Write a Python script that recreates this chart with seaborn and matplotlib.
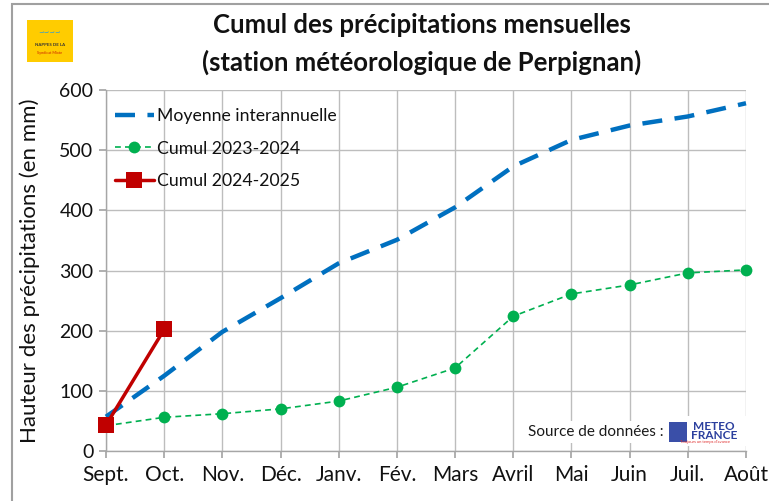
import numpy as np
import pandas as pd
import matplotlib
matplotlib.use("Agg")
import matplotlib.pyplot as plt
from matplotlib.patches import Rectangle
import seaborn as sns

months = ["Sept.", "Oct.", "Nov.", "Déc.", "Janv.", "Fév.", "Mars", "Avril", "Mai", "Juin", "Juil.", "Août"]
moyenne = [57, 125, 198, 254, 312, 351, 405, 473, 517, 541, 556, 578]
cumul_2324 = [42, 56, 62, 70, 83, 106, 138, 224, 261, 276, 296, 301]
cumul_2425 = [43, 202]
yticks = [0, 100, 200, 300, 400, 500, 600]

sns.set_theme(style="white")
plt.rcParams['font.family'] = ['Lato', 'DejaVu Sans']

W, H = 769, 501
fig = plt.figure(figsize=(W / 100, H / 100), dpi=100)
ax = fig.add_axes([106 / W, 1 - 451 / H, 640 / W, 361 / H])

x_all = np.arange(len(months))
df_m = pd.DataFrame({"x": x_all, "y": moyenne})
df_a = pd.DataFrame({"x": x_all, "y": cumul_2324})
df_b = pd.DataFrame({"x": x_all[:len(cumul_2425)], "y": cumul_2425})

sns.lineplot(data=df_m, x="x", y="y", ax=ax, color="#0070C0", linewidth=3.2,
             label="Moyenne interannuelle", zorder=3)
ax.lines[-1].set_dashes([4.5, 2.8])
sns.lineplot(data=df_a, x="x", y="y", ax=ax, color="#00B050", linewidth=1.2,
             marker="o", markersize=8.5, markeredgewidth=0, label="Cumul 2023-2024", zorder=4)
ax.lines[-1].set_dashes([3.5, 2.5])
sns.lineplot(data=df_b, x="x", y="y", ax=ax, color="#C00000", linewidth=2.5,
             marker="s", markersize=11, markeredgewidth=0, label="Cumul 2024-2025", zorder=5)
for ln in ax.lines:
    ln.set_clip_on(False)

ax.set_xlim(0, len(months) - 1)
ax.set_ylim(0, 600)
ax.set_xticks(x_all)
ax.set_xticklabels(months, fontsize=15, color="#111111")
ax.set_yticks(yticks)
ax.set_yticklabels([str(v) for v in yticks], fontsize=14, color="#111111")
ax.set_xlabel("")
ax.set_ylabel("Hauteur des précipitations (en mm)", fontsize=16, color="#111111", va="center")
ax.yaxis.set_label_coords((30 - 106) / 640, 0.5)
ax.grid(True, color="#bdbdbd", linewidth=1.0)
ax.set_axisbelow(True)
for s in ["top", "right"]:
    ax.spines[s].set_visible(False)
for s in ["left", "bottom"]:
    ax.spines[s].set_color("#a6a6a6")
    ax.spines[s].set_linewidth(1.0)
ax.tick_params(axis="x", bottom=True, length=5, color="#a6a6a6", pad=5)
ax.tick_params(axis="y", left=True, length=5, color="#a6a6a6", pad=4)

leg = ax.legend(loc="upper left", bbox_to_anchor=(0.0, 0.975), frameon=False, fontsize=12.7,
                handlelength=2.2, handletextpad=0.2, labelspacing=0.95, borderaxespad=0.1)
for t in leg.get_texts():
    t.set_color("#111111")

fig.text(422 / W, 1 - 25 / H, "Cumul des précipitations mensuelles", ha="center", va="center",
         fontsize=18.5, fontweight="bold", color="#111111")
fig.text(422 / W, 1 - 62 / H, "(station météorologique de Perpignan)", ha="center", va="center",
         fontsize=18.5, fontweight="bold", color="#111111")

# outer frame
fig.patches.append(Rectangle((12 / W, -0.05), (W - 10) / W, 1 - 4 / H + 0.05, transform=fig.transFigure,
                             fill=False, edgecolor="#a0a0a0", linewidth=1.5))

# logo (top left)
fig.patches.append(Rectangle((27 / W, 1 - 62 / H), 46 / W, 42 / H, transform=fig.transFigure,
                             facecolor="#FFCC00", edgecolor="none"))
fig.text(50 / W, 1 - 33 / H, "~~~~", ha="center", va="center", fontsize=7, color="#3aa0c8")
fig.text(50 / W, 1 - 45 / H, "NAPPES DE LA", ha="center", va="center", fontsize=3.2,
         fontweight="bold", color="#333333")
fig.text(50 / W, 1 - 53 / H, "Syndicat Mixte", ha="center", va="center", fontsize=2.8,
         color="#cc2200")

# source
fig.text(664 / W, 1 - 432 / H, "Source de données :", ha="right", va="center", fontsize=11,
         color="#1a1a1a", bbox=dict(facecolor="white", edgecolor="none", pad=3))
fig.patches.append(Rectangle((666 / W, 1 - 446 / H), 80 / W, 30 / H, transform=fig.transFigure,
                             facecolor="white", edgecolor="none", zorder=2))
fig.patches.append(Rectangle((669 / W, 1 - 442 / H), 18 / W, 20 / H, transform=fig.transFigure,
                             facecolor="#3a4fa8", edgecolor="none", zorder=3))
fig.text(714 / W, 1 - 431 / H, "METEO\nFRANCE", ha="center", va="center", fontsize=8.5,
         fontweight="bold", color="#2b3f9e", linespacing=0.85, zorder=4)
fig.text(705 / W, 1 - 442 / H, "Toujours un temps d'avance", ha="center", va="center", fontsize=3,
         color="#e03030", zorder=4)

fig.savefig("out.png", dpi=100, facecolor="white")
